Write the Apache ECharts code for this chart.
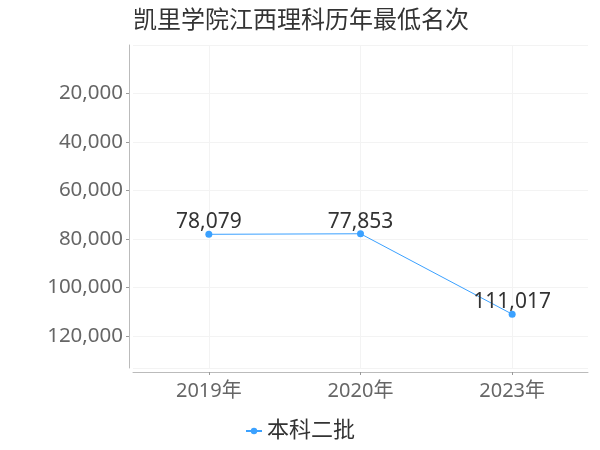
<!DOCTYPE html>
<html>
<head>
<meta charset="utf-8">
<script src="https://cdn.jsdelivr.net/npm/echarts@6/dist/echarts.min.js"></script>
<style>html,body{margin:0;padding:0;background:#fff}#c{width:600px;height:450px}</style>
</head>
<body>
<div id="c"></div>
<script>
const titleText = '凯里学院江西理科历年最低名次';
const categories = ['2019年', '2020年', '2023年'];
const seriesName = '本科二批';
const values = [78079, 77853, 111017];
const yTickInterval = 20000;

const FONT = '"Noto Sans", "Noto Sans CJK SC", sans-serif';
const chart = echarts.init(document.getElementById('c'));
chart.setOption({
  backgroundColor: '#fff',
  title: {
    text: titleText,
    left: 128,
    top: 4,
    textStyle: { fontSize: 24, fontWeight: 'normal', color: '#333', fontFamily: FONT }
  },
  legend: {
    data: [seriesName],
    bottom: 3,
    left: 'center',
    itemWidth: 16,
    itemHeight: 8,
    textStyle: { fontSize: 22, color: '#333', fontFamily: FONT }
  },
  grid: { left: 133, right: 12, top: 45, bottom: 82, containLabel: false },
  xAxis: {
    type: 'category',
    data: categories,
    boundaryGap: true,
    position: 'bottom',
    offset: 4,
    axisLine: { onZero: false, lineStyle: { color: '#bbb' } },
    axisTick: { show: true, alignWithLabel: true, length: 3, lineStyle: { color: '#999' } },
    axisLabel: { fontSize: 20, color: '#666', margin: 9, fontFamily: FONT },
    splitLine: { show: true, alignWithLabel: true, lineStyle: { color: '#f3f3f3' } }
  },
  yAxis: {
    type: 'value',
    inverse: true,
    min: 0,
    max: function (v) { return Math.round(v.max * 1.2); },
    interval: yTickInterval,
    offset: 4,
    axisLine: { show: true, onZero: false, lineStyle: { color: '#bbb' } },
    axisTick: { show: true, length: 3, lineStyle: { color: '#999' } },
    axisLabel: {
      fontSize: 20.5, color: '#666', margin: 6, fontFamily: FONT,
      showMinLabel: false, showMaxLabel: false,
      formatter: function (v) { return v.toLocaleString('en-US'); }
    },
    splitLine: { show: true, lineStyle: { color: '#f3f3f3' } }
  },
  series: [{
    name: seriesName,
    type: 'line',
    data: values,
    symbol: 'circle',
    symbolSize: 7,
    itemStyle: { color: '#3ba1ff' },
    lineStyle: { width: 1, color: '#3ba1ff' },
    label: {
      show: true,
      position: 'top',
      distance: -2,
      fontSize: 21,
      color: '#333',
      fontFamily: FONT,
      formatter: function (p) { return p.value.toLocaleString('en-US'); }
    }
  }]
});
</script>
</body>
</html>
